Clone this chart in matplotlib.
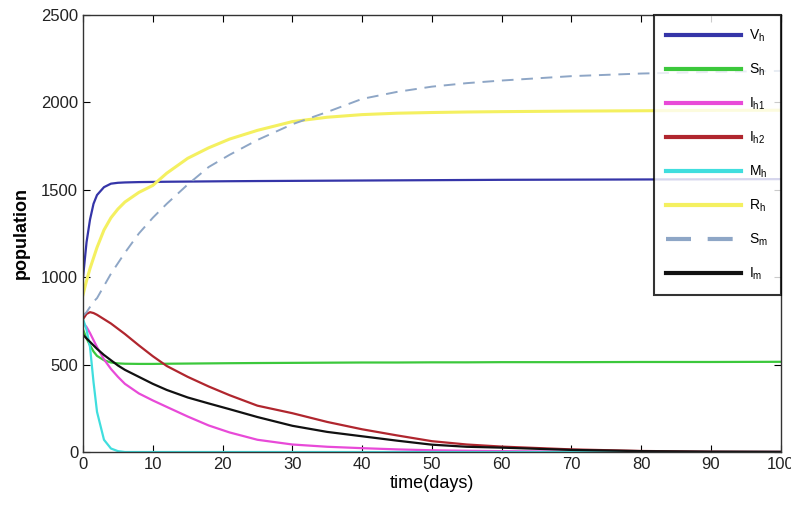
import matplotlib
matplotlib.use("Agg")
import matplotlib.pyplot as plt

plt.rcParams['font.family'] = ['Liberation Sans Narrow', 'Liberation Sans', 'DejaVu Sans']
plt.rcParams['mathtext.fontset'] = 'custom'
plt.rcParams['mathtext.rm'] = 'Liberation Sans'
plt.rcParams['mathtext.it'] = 'Liberation Sans'

t = [0, 0.5, 1, 1.5, 2, 3, 4, 5, 6, 8, 10, 12, 15, 18, 21, 25, 30, 35, 40, 45, 50, 55, 60, 70, 80, 90, 100]

V_h = [1000, 1200, 1330, 1420, 1470, 1515, 1535, 1540, 1542, 1544, 1545, 1546, 1547, 1548, 1549, 1550,
       1551, 1552, 1553, 1554, 1555, 1556, 1557, 1558, 1559, 1560, 1561]
S_h = [700, 650, 610, 575, 550, 525, 512, 507, 505, 504, 504, 505, 506, 507, 508, 509,
       510, 511, 512, 512, 513, 513, 514, 514, 515, 515, 516]
I_h1 = [740, 715, 680, 640, 600, 530, 475, 430, 390, 335, 295, 258, 203, 152, 112, 70,
        43, 30, 22, 15, 10, 7, 5, 2, 1, 0, 0]
I_h2 = [760, 790, 800, 795, 785, 760, 735, 705, 675, 610, 548, 492, 430, 375, 325, 265,
        222, 172, 130, 95, 62, 43, 31, 15, 6, 2, 1]
M_h = [760, 700, 600, 400, 230, 70, 20, 5, 0, 0, 0, 0, 0, 0, 0, 0,
       0, 0, 0, 0, 0, 0, 0, 0, 0, 0, 0]
R_h = [900, 980, 1050, 1110, 1170, 1270, 1340, 1390, 1430, 1485, 1525, 1595, 1680, 1740, 1790, 1840,
       1890, 1915, 1930, 1938, 1942, 1945, 1947, 1950, 1952, 1954, 1955]
S_m = [780, 800, 830, 860, 880, 950, 1020, 1080, 1140, 1250, 1340, 1420, 1530, 1630, 1700, 1785,
       1875, 1945, 2020, 2060, 2090, 2110, 2125, 2150, 2165, 2174, 2180]
I_m = [670, 650, 630, 610, 590, 555, 525, 495, 470, 430, 390, 355, 312, 278, 245, 200,
       150, 115, 90, 65, 42, 30, 25, 12, 5, 2, 1]

labels = ['$V_h$', '$S_h$', '$I_{h1}$', '$I_{h2}$', '$M_h$', '$R_h$', '$S_m$', '$I_m$']

fig = plt.figure(figsize=(7.91, 5.16), dpi=100)
ax = fig.add_axes([0.105, 0.124, 0.882, 0.847])

lw = 1.6
ax.plot(t, V_h, color='#3535a8', lw=lw, label=labels[0])
ax.plot(t, S_h, color='#3cc83c', lw=lw, label=labels[1])
ax.plot(t, I_h1, color='#e84ad8', lw=lw, label=labels[2])
ax.plot(t, I_h2, color='#b0262e', lw=lw, label=labels[3])
ax.plot(t, M_h, color='#40dede', lw=lw, label=labels[4])
ax.plot(t, R_h, color='#f4f060', lw=lw + 0.6, label=labels[5])
ax.plot(t, S_m, color='#8ea6c6', lw=lw - 0.2, ls=(0, (6, 4)), label=labels[6])
ax.plot(t, I_m, color='#111111', lw=lw, label=labels[7])

ax.set_xlim(0, 100)
ax.set_ylim(0, 2500)
ax.set_xticks(range(0, 101, 10))
ax.set_yticks(range(0, 2501, 500))
ax.tick_params(direction='in', top=True, right=True, labelsize=12, length=5, width=0.8,
               labelcolor='#222222')
for s in ax.spines.values():
    s.set_linewidth(1.0)
    s.set_color('#333333')

ax.set_xlabel('time(days)', fontsize=13, labelpad=2)
ax.set_ylabel('population', fontsize=13, fontweight='bold', labelpad=8)

leg = ax.legend(loc='upper right', fontsize=10, handlelength=5.4, labelspacing=1.27,
                frameon=True, fancybox=False, edgecolor='black', borderaxespad=0.0,
                handletextpad=0.6, borderpad=0.9)
leg.get_frame().set_linewidth(1.5)
for line in leg.get_lines():
    line.set_linewidth(3)

fig.savefig('out.png', dpi=100)
